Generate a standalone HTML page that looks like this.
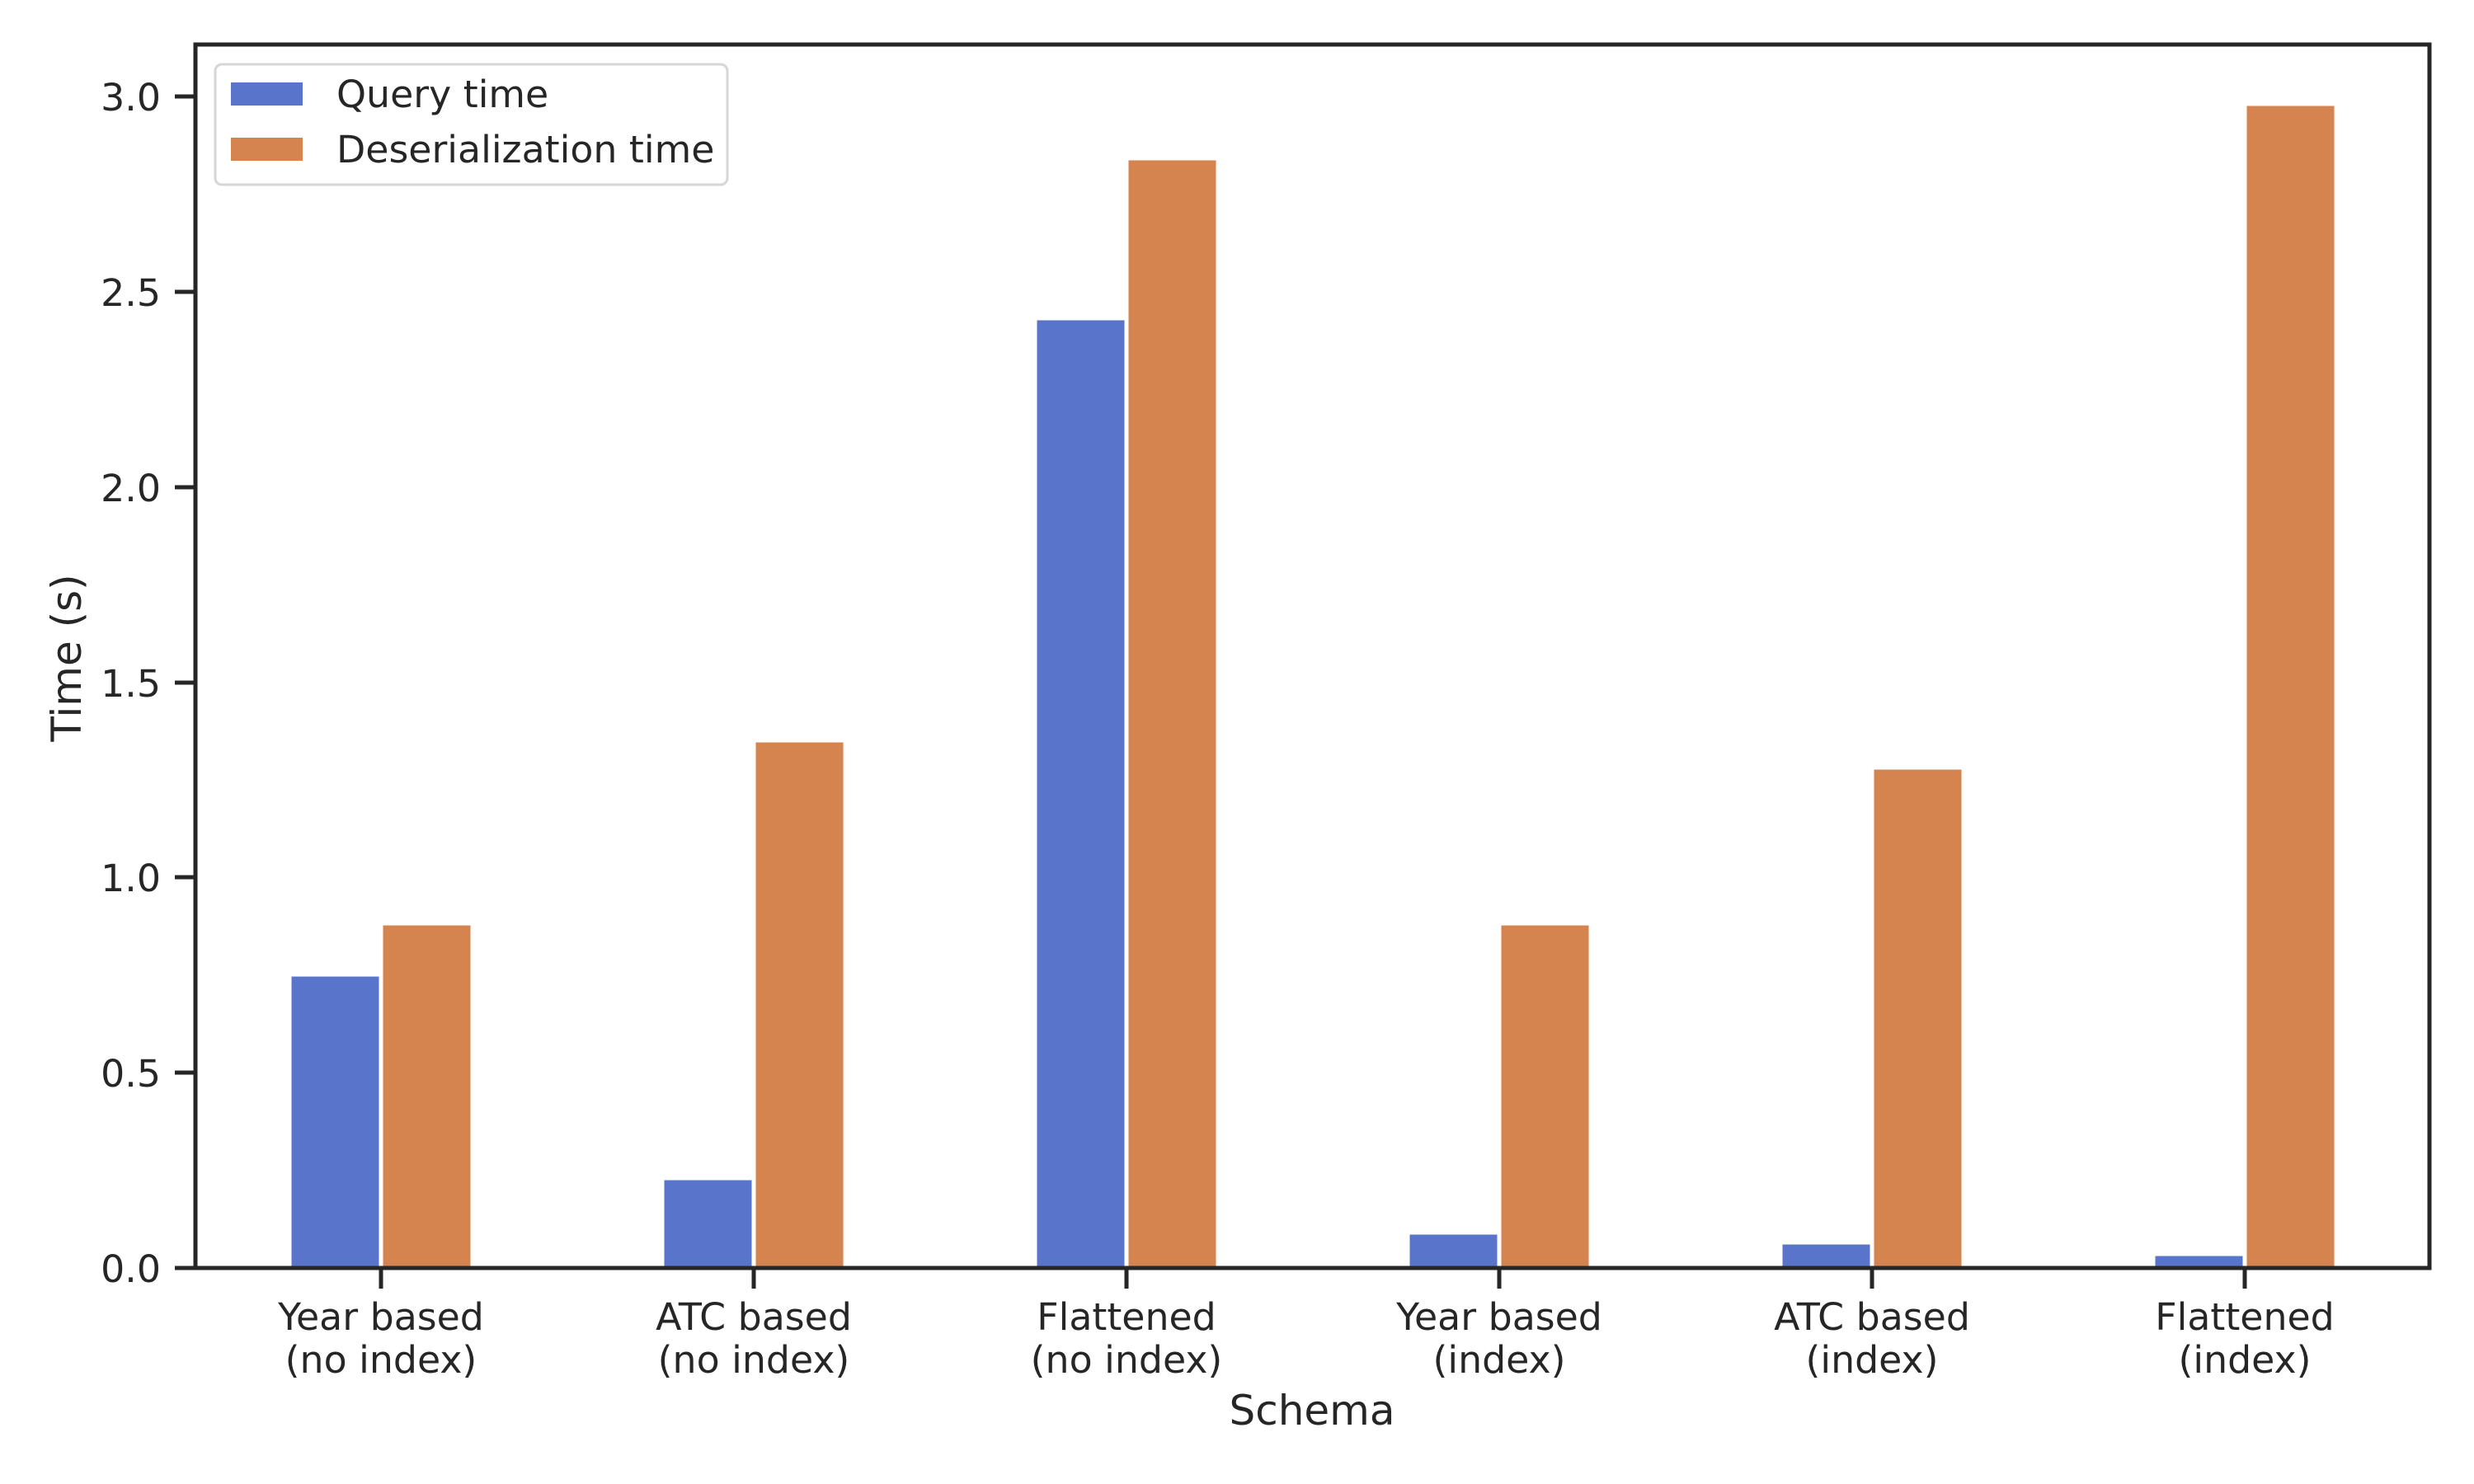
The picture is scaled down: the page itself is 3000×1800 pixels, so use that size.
<!DOCTYPE html>
<html><head><meta charset="utf-8"><style>
html,body{margin:0;padding:0;background:#fff;}
svg{display:block;}
text{font-family:"DejaVu Sans","Liberation Sans",sans-serif;fill:#262626;}
</style></head><body>
<svg width="3000" height="1800" viewBox="0 0 3000 1800" xmlns="http://www.w3.org/2000/svg">
<rect width="3000" height="1800" fill="#fff"/>
<g stroke="#fff" stroke-width="3">
<rect x="352" y="1183" width="109" height="355" fill="#5975cb"/>
<rect x="463" y="1121" width="109" height="417" fill="#d5834f"/>
<rect x="804" y="1430" width="109" height="108" fill="#5975cb"/>
<rect x="915" y="899" width="109" height="639" fill="#d5834f"/>
<rect x="1256" y="387" width="109" height="1151" fill="#5975cb"/>
<rect x="1367" y="193" width="109" height="1345" fill="#d5834f"/>
<rect x="1708" y="1496" width="109" height="42" fill="#5975cb"/>
<rect x="1819" y="1121" width="109" height="417" fill="#d5834f"/>
<rect x="2160" y="1508" width="109" height="30" fill="#5975cb"/>
<rect x="2271" y="932" width="109" height="606" fill="#d5834f"/>
<rect x="2612" y="1522" width="109" height="16" fill="#5975cb"/>
<rect x="2723" y="127" width="109" height="1411" fill="#d5834f"/>
</g>
<rect x="237" y="54" width="2709" height="1484" fill="none" stroke="#262626" stroke-width="5"/>
<g stroke="#262626" stroke-width="5">
<line x1="212" y1="1538" x2="237" y2="1538"/>
<line x1="212" y1="1301" x2="237" y2="1301"/>
<line x1="212" y1="1064" x2="237" y2="1064"/>
<line x1="212" y1="828" x2="237" y2="828"/>
<line x1="212" y1="591" x2="237" y2="591"/>
<line x1="212" y1="354" x2="237" y2="354"/>
<line x1="212" y1="117" x2="237" y2="117"/>
<line x1="462" y1="1538" x2="462" y2="1563"/>
<line x1="914" y1="1538" x2="914" y2="1563"/>
<line x1="1366" y1="1538" x2="1366" y2="1563"/>
<line x1="1818" y1="1538" x2="1818" y2="1563"/>
<line x1="2270" y1="1538" x2="2270" y2="1563"/>
<line x1="2722" y1="1538" x2="2722" y2="1563"/>
</g>
<g font-size="45.8" text-anchor="end">
<text x="195" y="1555">0.0</text>
<text x="195" y="1318">0.5</text>
<text x="195" y="1081">1.0</text>
<text x="195" y="845">1.5</text>
<text x="195" y="608">2.0</text>
<text x="195" y="371">2.5</text>
<text x="195" y="134">3.0</text>
</g>
<g font-size="45.8" text-anchor="middle">
<text x="462" y="1613">Year based</text><text x="462" y="1665">(no index)</text>
<text x="914" y="1613">ATC based</text><text x="914" y="1665">(no index)</text>
<text x="1366" y="1613">Flattened</text><text x="1366" y="1665">(no index)</text>
<text x="1818" y="1613">Year based</text><text x="1818" y="1665">(index)</text>
<text x="2270" y="1613">ATC based</text><text x="2270" y="1665">(index)</text>
<text x="2722" y="1613">Flattened</text><text x="2722" y="1665">(index)</text>
</g>
<text x="1591" y="1728" font-size="50" text-anchor="middle">Schema</text>
<text transform="translate(98,798) rotate(-90)" font-size="50" text-anchor="middle">Time (s)</text>
<rect x="261" y="78" width="621" height="146" rx="8" fill="#fff" fill-opacity="0.8" stroke="#d6d6d6" stroke-width="3"/>
<rect x="280" y="100" width="87" height="28" fill="#5975cb"/>
<rect x="280" y="167" width="87" height="28" fill="#d5834f"/>
<text x="408" y="130" font-size="45.8">Query time</text>
<text x="408" y="197" font-size="45.8">Deserialization time</text>
</svg>
</body></html>
